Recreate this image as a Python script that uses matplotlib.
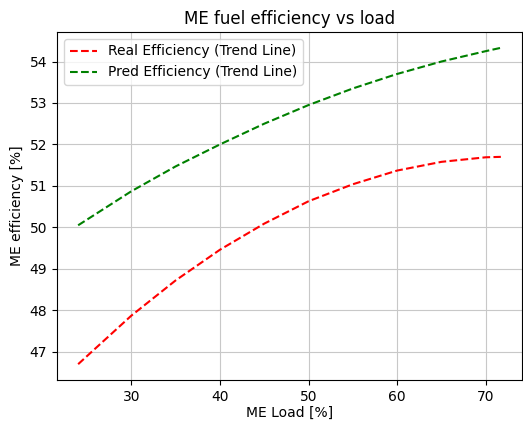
import matplotlib
matplotlib.use("Agg")
import matplotlib.pyplot as plt

# ME load [%] and trend-line efficiencies [%]
load = [24.0, 30.0, 35.0, 40.0, 45.0, 50.0, 55.0, 60.0, 65.0, 70.0, 71.7]
real_eff = [46.70, 47.87, 48.72, 49.46, 50.09, 50.63, 51.04, 51.37, 51.58, 51.69, 51.70]
pred_eff = [50.05, 50.87, 51.47, 52.00, 52.50, 52.95, 53.35, 53.70, 54.00, 54.25, 54.33]

fig = plt.figure(figsize=(5.23, 4.21), dpi=100)
ax = fig.add_axes([57 / 523, 1 - 380 / 421, 465 / 523, 348 / 421])
ax.plot(load, real_eff, "r--", label="Real Efficiency (Trend Line)")
ax.plot(load, pred_eff, "g--", label="Pred Efficiency (Trend Line)")
ax.set_title("ME fuel efficiency vs load")
ax.set_xlabel("ME Load [%]", labelpad=1.5)
ax.set_ylabel("ME efficiency [%]")
ax.grid(True, color="#c8c8c8")
ax.legend(loc="upper left")
fig.savefig("out.png", dpi=100)
